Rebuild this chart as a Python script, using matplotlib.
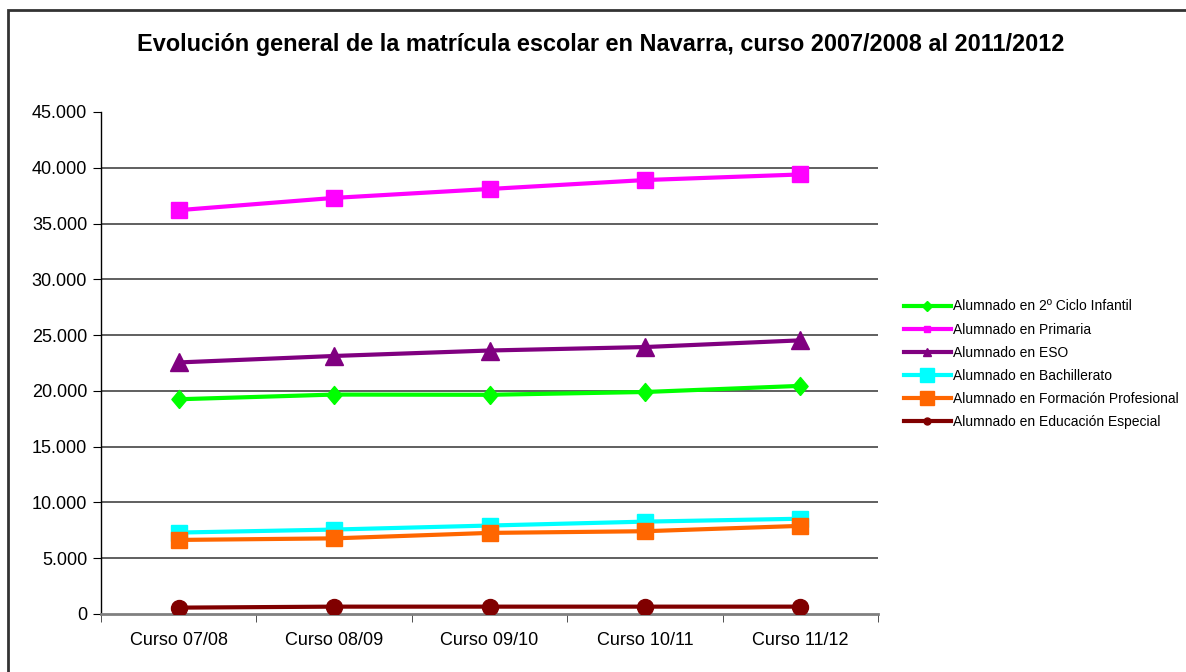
import matplotlib.pyplot as plt
from matplotlib.patches import Rectangle
from matplotlib.ticker import FuncFormatter, FixedLocator

plt.rcParams['font.family'] = ['Liberation Sans', 'DejaVu Sans']

cursos = ["Curso 07/08", "Curso 08/09", "Curso 09/10", "Curso 10/11", "Curso 11/12"]

infantil = [19250, 19670, 19650, 19900, 20450]
primaria = [36200, 37300, 38100, 38900, 39400]
eso = [22550, 23130, 23620, 23930, 24530]
bachillerato = [7300, 7570, 7930, 8280, 8540]
fp = [6640, 6780, 7270, 7420, 7900]
especial = [570, 660, 660, 660, 660]

# slightly tall diamond
diamond = [(0, -9.5), (8, 0), (0, 9.5), (-8, 0), (0, -9.5)]

series = [
    ("Alumnado en 2º Ciclo Infantil", infantil, "#00ff00", diamond, 13, "D", 5),
    ("Alumnado en Primaria", primaria, "#ff00ff", "s", 11, "s", 5),
    ("Alumnado en ESO", eso, "#800080", "^", 13, "^", 6),
    ("Alumnado en Bachillerato", bachillerato, "#00ffff", "s", 11, "s", 10),
    ("Alumnado en Formación Profesional", fp, "#ff6600", "s", 11, "s", 10),
    ("Alumnado en Educación Especial", especial, "#800000", "o", 11.5, "o", 5),
]

fig = plt.figure(figsize=(11.86, 6.72), dpi=100)

# outer chart frame
fig.patches.append(Rectangle((8 / 1186, -0.1), 1.2, 1 - 10 / 672 + 0.1,
                             transform=fig.transFigure, fill=False,
                             edgecolor="#333333", linewidth=2))

ax = fig.add_axes([101 / 1186, 1 - 614 / 672, 777 / 1186, 502 / 672])

x = list(range(len(cursos)))
for label, vals, color, marker, ms, lm, lms in series:
    ax.plot(x, vals, color=color, linewidth=3, marker=marker,
            markersize=ms, markeredgewidth=1, zorder=3)

ax.set_xlim(-0.5, len(cursos) - 0.5)
ax.set_ylim(0, 45000)
ax.yaxis.set_major_locator(FixedLocator(range(0, 45001, 5000)))
ax.yaxis.set_major_formatter(FuncFormatter(lambda v, p: f"{int(v):,}".replace(",", ".")))

for v in range(5000, 45000, 5000):
    ax.axhline(v, color="#444444", linewidth=1.2, zorder=1)

ax.set_xticks(x)
ax.set_xticklabels(cursos)
ax.set_xticks([i - 0.5 for i in range(len(cursos) + 1)], minor=True)
ax.tick_params(axis="x", which="major", length=0, pad=13, labelsize=13)
ax.tick_params(axis="x", which="minor", length=6, direction="out", color="#333333")
ax.tick_params(axis="y", length=6, direction="out", labelsize=13, pad=4)

for s in ["top", "right"]:
    ax.spines[s].set_visible(False)
ax.spines["bottom"].set_color("#808080")
ax.spines["bottom"].set_linewidth(2)
ax.spines["left"].set_color("black")
ax.spines["left"].set_linewidth(1)

fig.text(601 / 1186, 1 - 44 / 672,
         "Evolución general de la matrícula escolar en Navarra, curso 2007/2008 al 2011/2012",
         ha="center", va="center", fontsize=16.9, fontweight="bold")

handles = []
for label, vals, color, marker, ms, lm, lms in series:
    h, = ax.plot([], [], color=color, linewidth=3, marker=lm, markersize=lms)
    handles.append(h)
fig.legend(handles, [s[0] for s in series], loc="upper left",
           bbox_to_anchor=(891 / 1186, 1 - 287 / 672), frameon=False,
           fontsize=10, handlelength=3.4, handletextpad=0.15, labelspacing=0.65)

fig.savefig("out.png", dpi=100)
